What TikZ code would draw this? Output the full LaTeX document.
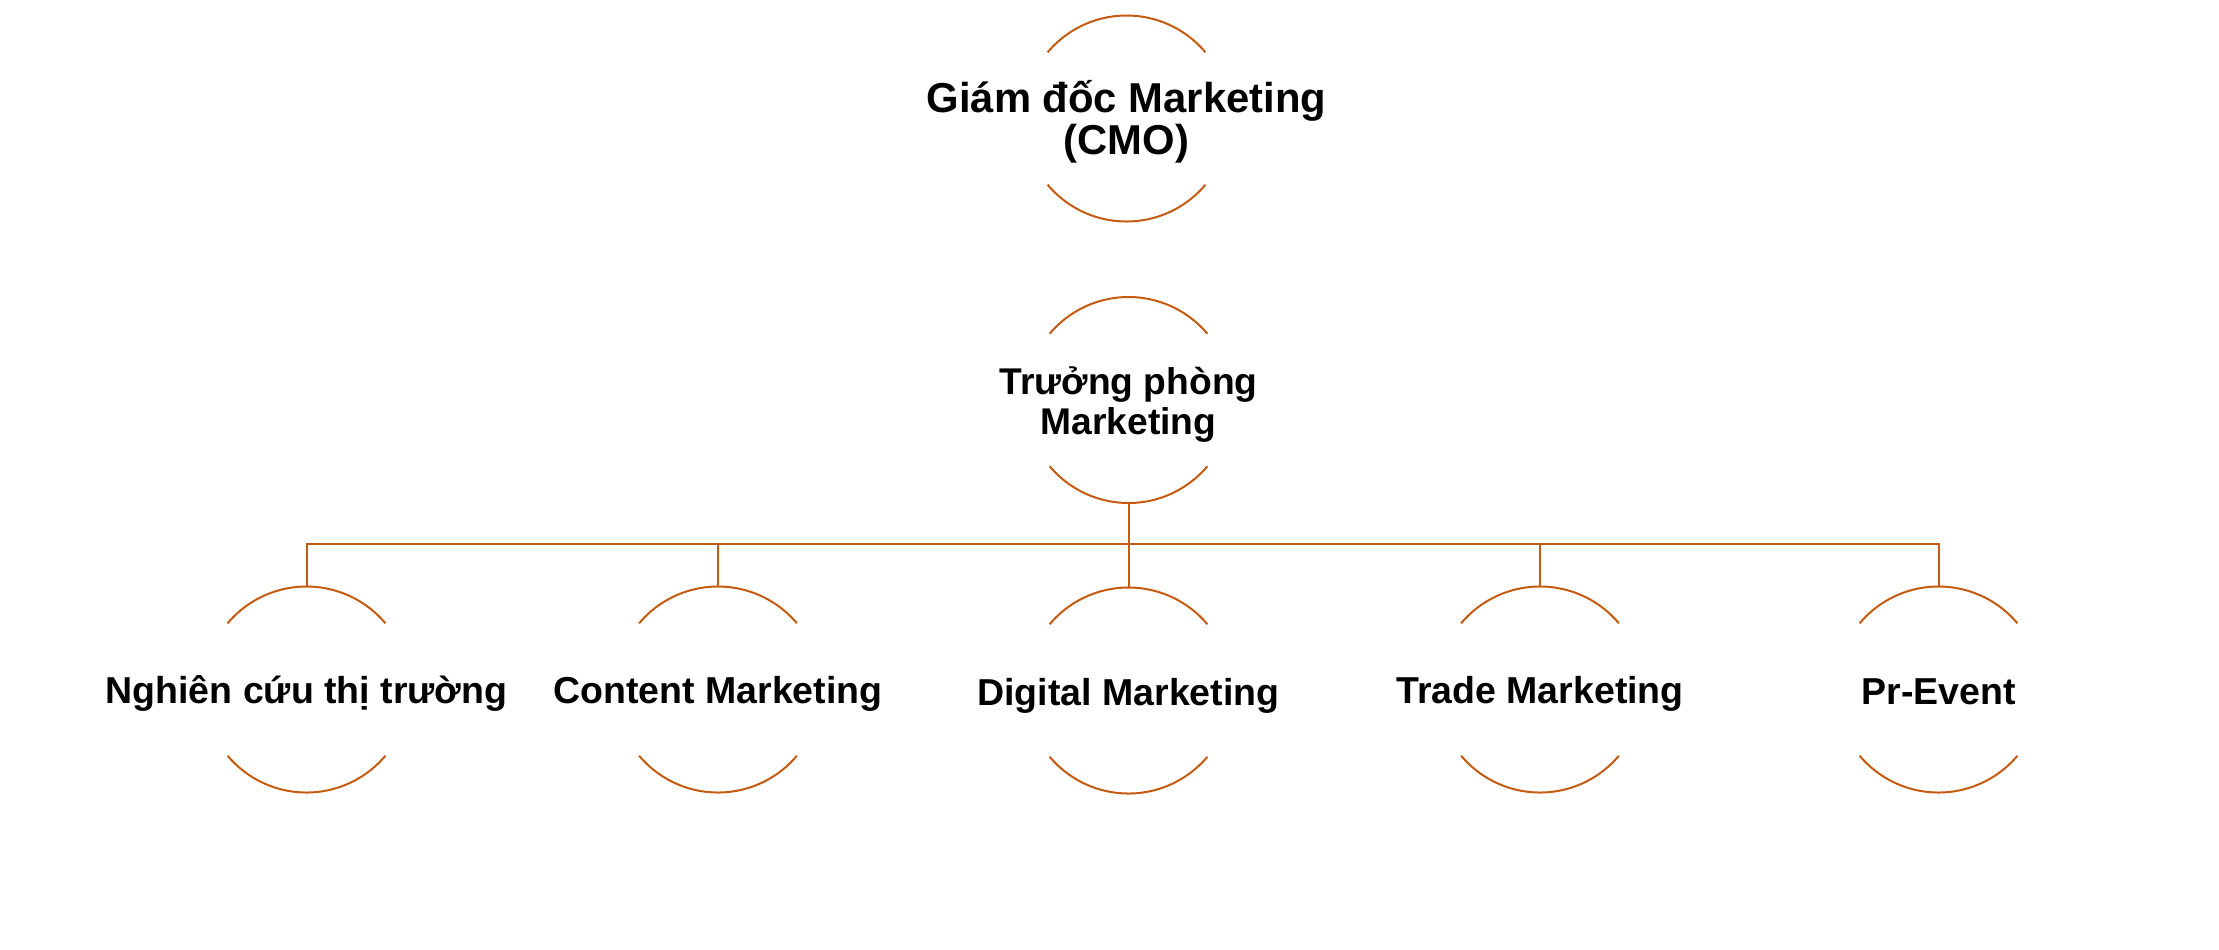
\documentclass[tikz,border=0pt]{standalone}
\usepackage{fontspec}
\setmainfont{Liberation Sans}
\definecolor{acc}{HTML}{C55A11}
\tikzset{
  ring/.style={circle, minimum size=103pt, inner sep=0pt, outer sep=0pt},
  arcs/.style={draw=acc, line width=1pt},
  conn/.style={draw=acc, line width=1pt},
  lbl/.style={font=\bfseries\fontsize{18.75pt}{21.5pt}\selectfont, inner sep=0pt, align=center},
  lbltop/.style={lbl, font=\bfseries\fontsize{20.9pt}{21.3pt}\selectfont},
  lblmid/.style={lbl, font=\bfseries\fontsize{18.6pt}{20pt}\selectfont},
}
\begin{document}
\begin{tikzpicture}[x=0.5pt,y=-0.5pt]
\useasboundingbox (0,0) rectangle (2219,949);
% rings
\node[ring] (cmo) at (1126.5,118.5) {};
\node[ring] (tp)  at (1128.5,400) {};
\node[ring] (b1)  at (306.5,689.5) {};
\node[ring] (b2)  at (718,689.5) {};
\node[ring] (b3)  at (1128.5,690.5) {};
\node[ring] (b4)  at (1540,689.5) {};
\node[ring] (b5)  at (1938.5,689.5) {};
\foreach \n in {cmo,tp,b1,b2,b3,b4,b5}{
  \draw[arcs] (\n.40) arc[start angle=40,end angle=140,radius=51.5pt];
  \draw[arcs] (\n.220) arc[start angle=220,end angle=320,radius=51.5pt];
}
% texts
\node[lbltop] (cmot) at ([yshift=-1.6pt]cmo.center) {Giám đốc Marketing\\(CMO)};
\node[lblmid] (tpt) at ([yshift=-2.1pt]tp.center) {Trưởng phòng\\Marketing};
\node[lbl, anchor=base] (b1t) at ([yshift=-6.9pt]b1.center) {Nghiên cứu thị trường};
\node[lbl, anchor=base] (b2t) at ([yshift=-6.9pt]b2.center) {Content Marketing};
\node[lbl, anchor=base] (b3t) at ([yshift=-7.4pt]b3.center) {Digital Marketing};
\node[lbl, anchor=base] (b4t) at ([yshift=-6.9pt]b4.center) {Trade Marketing};
\node[lbl, anchor=base] (b5t) at ([yshift=-7.4pt]b5.center) {Pr-Event};
% connectors
\draw[conn] (tp.south) -- ++(0,40.5) -| (b1.north);
\draw[conn] (tp.south) -- ++(0,40.5) -| (b2.north);
\draw[conn] (tp.south) -- (b3.north);
\draw[conn] (tp.south) -- ++(0,40.5) -| (b4.north);
\draw[conn] (tp.south) -- ++(0,40.5) -| (b5.north);
\end{tikzpicture}
\end{document}
